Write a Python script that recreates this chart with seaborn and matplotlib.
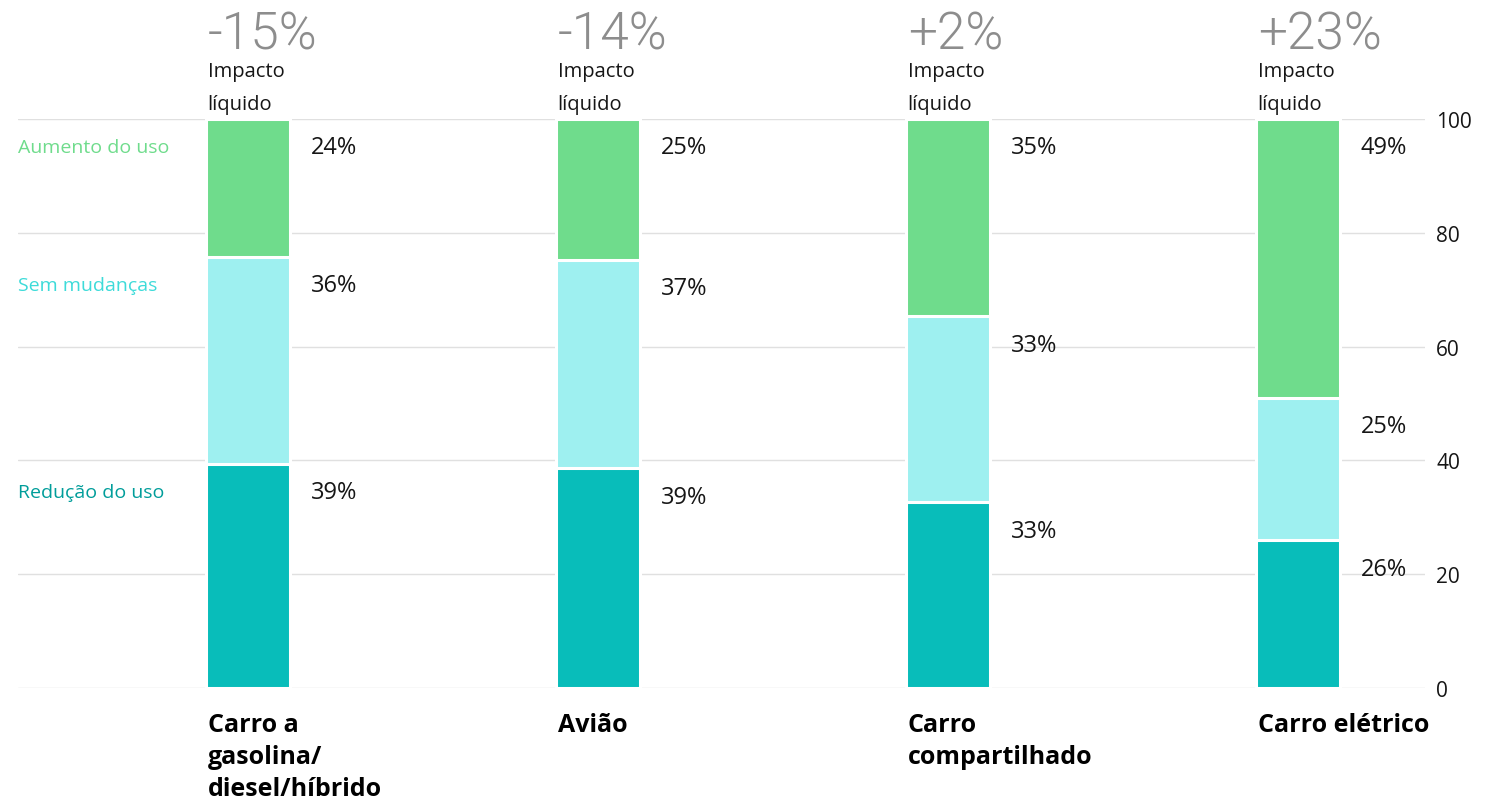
import matplotlib
matplotlib.use("Agg")
import matplotlib.pyplot as plt
import seaborn as sns
import numpy as np
import pandas as pd

categories = ["Carro a\ngasolina/\ndiesel/híbrido", "Avião", "Carro\ncompartilhado", "Carro elétrico"]
reducao = [39, 39, 33, 26]
sem_mudancas = [36, 37, 33, 25]
aumento = [24, 25, 35, 49]
impacto = ["-15%", "-14%", "+2%", "+23%"]
series_names = ["Redução do uso", "Sem mudanças", "Aumento do uso"]
bar_colors = ["#08bdba", "#9ef0f0", "#6fdc8c"]
legend_colors = ["#009d9a", "#3ddbd9", "#6fdc8c"]
yticks = [0, 20, 40, 60, 80, 100]

sns.set_theme(style="white")
plt.rcParams['font.family'] = ['Open Sans', 'DejaVu Sans']

vals = np.array([reducao, sem_mudancas, aumento], dtype=float)
norm = vals / vals.sum(axis=0) * 100
cum = np.cumsum(norm, axis=0)

fig = plt.figure(figsize=(15.07, 8.03), dpi=100)
ax = fig.add_axes([18/1507, (803-689)/803, (1425-18)/1507, (689-120)/803])

for y in yticks:
    ax.axhline(y, color="#e0e0e0", lw=1, zorder=0)

xpos = list(range(len(categories)))
for level in [2, 1, 0]:
    df = pd.DataFrame({"cat": [str(i) for i in xpos], "v": cum[level]})
    sns.barplot(data=df, x="cat", y="v", color=bar_colors[level], width=0.24,
                edgecolor="white", linewidth=2.2, saturation=1, ax=ax, zorder=2 + (2 - level))

ax.set_xlim(-0.657, 3.363)
ax.set_ylim(0, 100)
ax.set_xlabel("")
ax.set_ylabel("")
ax.set_xticks([])
for s in ax.spines.values():
    s.set_visible(False)
ax.yaxis.tick_right()
ax.set_yticks(yticks)
ax.set_yticklabels([str(t) for t in yticks], fontsize=15, color="#161616")
ax.tick_params(axis="y", length=0, pad=8)

off = 5
half = 0.12
xt = ax.get_xaxis_transform()
for i in xpos:
    for level in range(3):
        ax.text(i + half + 0.06, cum[level][i] - off, f"{int(vals[level][i])}%",
                ha="left", va="center", fontsize=17, color="#161616", zorder=10)
    ax.text(i - half + 0.005, 1.148, impacto[i], transform=xt,
            ha="left", va="center", fontsize=37, color="#8d8d8d", family="Roboto",
            fontweight=300)
    ax.text(i - half + 0.005, 1.085, "Impacto", transform=xt,
            ha="left", va="center", fontsize=14.5, color="#161616")
    ax.text(i - half + 0.005, 1.026, "líquido", transform=xt,
            ha="left", va="center", fontsize=14.5, color="#161616")
    ax.text(i - half + 0.005, -0.042, categories[i], transform=xt,
            ha="left", va="top", fontsize=18, fontweight="bold", color="#000000",
            linespacing=1.38)

for level in range(3):
    ax.text(-0.657, cum[level][0] - off, series_names[level], ha="left", va="center",
            fontsize=14, color=legend_colors[level])

fig.savefig("out.png", dpi=100)
